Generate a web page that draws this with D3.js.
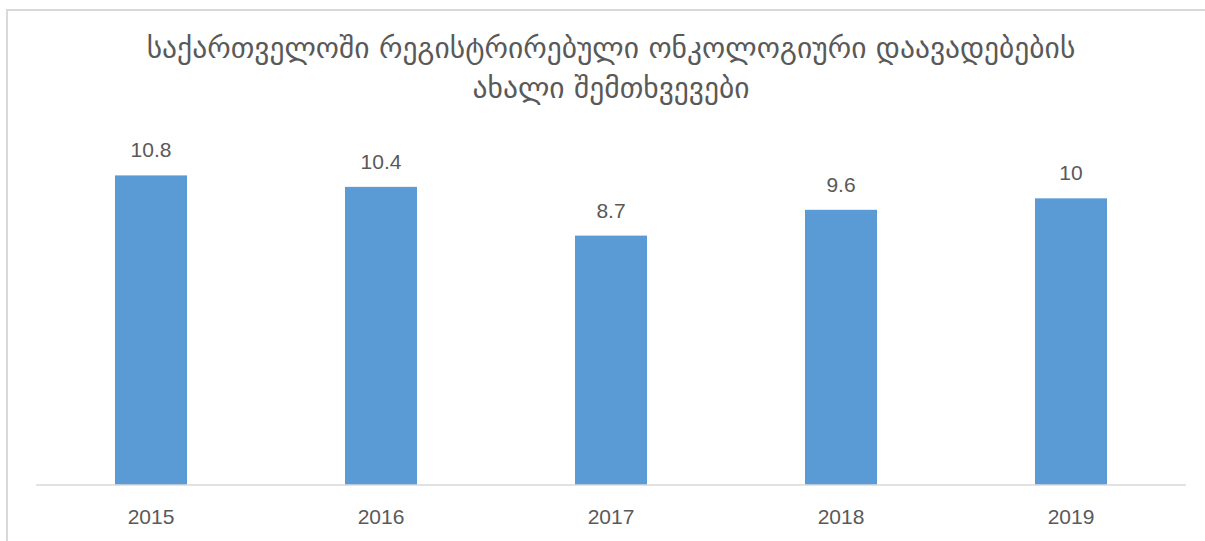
<!DOCTYPE html>
<html>
<head>
<meta charset="utf-8">
<script src="https://cdn.jsdelivr.net/npm/d3@7"></script>
<style>
  html, body { margin: 0; padding: 0; background: #fff; }
  svg { display: block; }
</style>
</head>
<body>
<svg id="chart" width="1205" height="541"></svg>
<script>
const years = ["2015", "2016", "2017", "2018", "2019"];
const cases = [10.8, 10.4, 8.7, 9.6, 10];
const titleLines = [
  "საქართველოში რეგისტრირებული ონკოლოგიური დაავადებების",
  "ახალი შემთხვევები"
];

const W = 1205, H = 541;
const svg = d3.select("#chart");
const textColor = "#595959";
const gridColor = "#d9d9d9";
const labelFont = "'Liberation Sans', Arial, sans-serif";

// outer chart frame (runs past the right and bottom edges of the view)
svg.append("rect")
  .attr("x", 7).attr("y", 10)
  .attr("width", 1260).attr("height", 600)
  .attr("fill", "#fff")
  .attr("stroke", gridColor).attr("stroke-width", 2);

const plot = { left: 36, right: 1186, top: 141, bottom: 485 };

const x = d3.scaleBand()
  .domain(years)
  .range([plot.left, plot.right])
  .paddingInner(0.687)
  .paddingOuter(0.3435);

const y = d3.scaleLinear()
  .domain([0, 12])
  .range([plot.bottom, plot.top]);

const data = years.map((yr, i) => ({ year: yr, value: cases[i] }));

// bars
svg.append("g")
  .selectAll("rect")
  .data(data)
  .join("rect")
  .attr("x", d => x(d.year))
  .attr("y", d => y(d.value))
  .attr("width", x.bandwidth())
  .attr("height", d => y(0) - y(d.value))
  .attr("fill", "#5b9bd5");

// value labels
svg.append("g")
  .selectAll("text")
  .data(data)
  .join("text")
  .attr("x", d => x(d.year) + x.bandwidth() / 2)
  .attr("y", d => y(d.value) - 18)
  .attr("text-anchor", "middle")
  .attr("font-family", labelFont)
  .attr("font-size", 21)
  .attr("fill", textColor)
  .text(d => d3.format("")(d.value));

// category axis
const xAxis = svg.append("g")
  .attr("transform", `translate(0,${plot.bottom})`)
  .call(d3.axisBottom(x).tickSize(0).tickPadding(0));
xAxis.select(".domain")
  .attr("d", `M${plot.left},0H${plot.right}`)
  .attr("stroke", gridColor)
  .attr("stroke-width", 1.5);
xAxis.selectAll(".tick text")
  .attr("dy", null)
  .attr("y", 39)
  .attr("font-family", labelFont)
  .attr("font-size", 21)
  .attr("fill", textColor);

// title, sized so the first line spans the chart's title width
const title = svg.append("g");
const cx = (plot.left + plot.right) / 2;
const lines = title.selectAll("text")
  .data(titleLines)
  .join("text")
  .attr("x", cx)
  .attr("y", (d, i) => 58 + i * 40)
  .attr("text-anchor", "middle")
  .attr("font-family", "'DejaVu Sans', sans-serif")
  .attr("font-size", 28)
  .attr("fill", textColor)
  .text(d => d);
const measured = lines.nodes()[0].getComputedTextLength();
const fitted = 28 * 929 / measured;
lines.attr("font-size", fitted);
</script>
</body>
</html>
